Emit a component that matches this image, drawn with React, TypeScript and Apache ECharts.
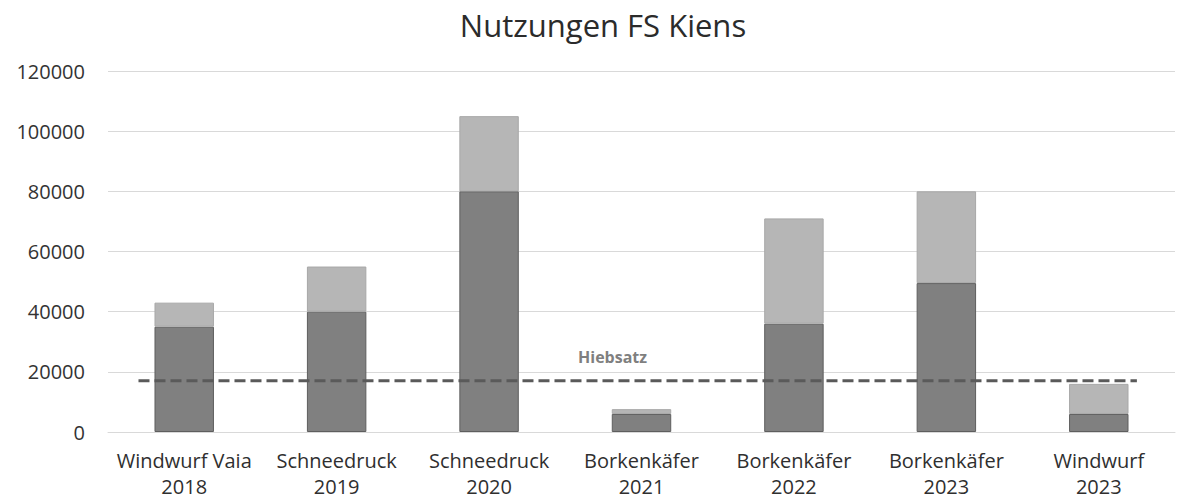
import React, { useEffect, useRef } from "react";
import * as echarts from "echarts";

const categories = [
  "Windwurf Vaia\n2018",
  "Schneedruck\n2019",
  "Schneedruck\n2020",
  "Borkenkäfer\n2021",
  "Borkenkäfer\n2022",
  "Borkenkäfer\n2023",
  "Windwurf\n2023",
];
const darkValues = [35000, 40000, 80000, 6000, 36000, 49500, 6000];
const totalValues = [43000, 55000, 105000, 7600, 71000, 80000, 16000];
const lightValues = totalValues.map((t, i) => t - darkValues[i]);
const hiebsatz = 17000;
const hiebsatzLabel = "Hiebsatz";
const titleText = "Nutzungen FS Kiens";
const yTicks = [0, 20000, 40000, 60000, 80000, 100000, 120000];

const FONT = "'Open Sans', 'Noto Sans', sans-serif";

export default function App() {
  const ref = useRef<HTMLDivElement>(null);
  useEffect(() => {
    document.body.style.margin = "0";
    const chart = echarts.init(ref.current!, null, { renderer: "svg" });
    chart.setOption({
      animation: false,
      backgroundColor: "#ffffff",
      title: {
        text: titleText,
        left: 598,
        textAlign: "center",
        top: 4,
        textStyle: { fontFamily: FONT, fontSize: 31, fontWeight: "normal", color: "#2b2b2b" },
      },
      grid: { left: 108, right: 2, top: 71, bottom: 66 },
      xAxis: [
        {
          type: "category",
          data: categories,
          axisLine: { show: true, lineStyle: { color: "#d9d9d9", width: 1 } },
          axisTick: { show: false },
          axisLabel: {
            interval: 0,
            margin: 15,
            fontFamily: FONT,
            fontSize: 20,
            lineHeight: 26,
            color: "#2f2f2f",
          },
        },
        { type: "value", min: 0, max: 7, show: false },
      ],
      yAxis: {
        type: "value",
        min: yTicks[0],
        max: yTicks[yTicks.length - 1],
        interval: 20000,
        axisLine: { show: false },
        axisTick: { show: false },
        splitLine: { lineStyle: { color: "#d9d9d9", width: 1 } },
        axisLabel: {
          margin: 23,
          fontFamily: FONT,
          fontSize: 20,
          color: "#333333",
          formatter: (v: number) => String(v),
        },
      },
      series: [
        {
          type: "bar",
          stack: "n",
          data: darkValues,
          barWidth: "39%",
          itemStyle: { color: "#808080", borderColor: "#5e5e5e", borderWidth: 1 },
        },
        {
          type: "bar",
          stack: "n",
          data: lightValues,
          barWidth: "39%",
          itemStyle: { color: "#b6b6b6", borderColor: "#a8a8a8", borderWidth: 1 },
        },
        {
          type: "line",
          xAxisIndex: 1,
          data: [
            [0.2, hiebsatz],
            [6.75, hiebsatz],
          ],
          symbol: "none",
          lineStyle: { color: "#5a5a5a", width: 3, type: [11, 5] },
          z: 5,
        },
      ],
      graphic: [
        {
          type: "text",
          left: 578,
          top: 349,
          style: {
            text: hiebsatzLabel,
            fontFamily: FONT,
            fontSize: 16,
            fontWeight: "bold",
            fill: "#7f7f7f",
          },
        },
      ],
    });
    return () => chart.dispose();
  }, []);
  return <div ref={ref} style={{ width: 1177, height: 499 }} />;
}
